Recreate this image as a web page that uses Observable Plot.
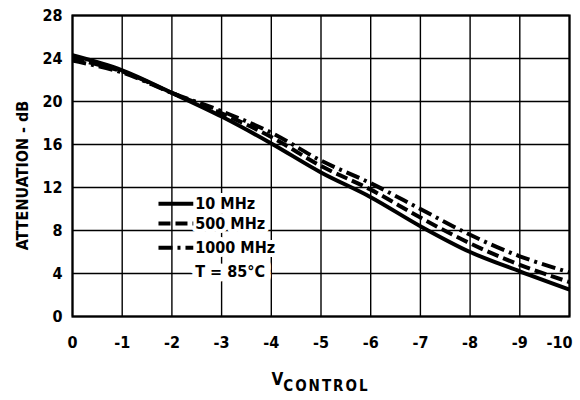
<!DOCTYPE html>
<html>
<head>
<meta charset="utf-8">
<script src="https://cdn.jsdelivr.net/npm/d3@7"></script>
<script src="https://cdn.jsdelivr.net/npm/@observablehq/plot@0.6"></script>
<style>
  html, body { margin: 0; padding: 0; background: #fff; }
  #chart svg { display: block; }
</style>
</head>
<body>
<div id="chart"></div>
<script>
// ---- data ----
const vControl = [0, -1, -2, -3, -4, -5, -6, -7, -8, -9, -10];
const att10MHz   = [24.3, 22.9, 20.8, 18.6, 16.1, 13.4, 11.1, 8.4, 6.0, 4.2, 2.5];
const att500MHz  = [24.0, 22.8, 20.8, 18.9, 16.7, 14.0, 11.8, 9.2, 6.8, 4.8, 3.2];
const att1000MHz = [23.8, 22.7, 20.8, 19.1, 17.1, 14.5, 12.4, 10.0, 7.6, 5.6, 4.1];
const xTicks = [0, -1, -2, -3, -4, -5, -6, -7, -8, -9, -10];
const yTicks = [0, 4, 8, 12, 16, 20, 24, 28];
const seriesNames = ["10 MHz", "500 MHz", "1000 MHz"];
const noteText = "T = 85°C";

const seriesValues = [att10MHz, att500MHz, att1000MHz];
const dashes = [null, "12,5", "14,5,3,5"];

const rows = [];
seriesNames.forEach((name, i) => {
  vControl.forEach((v, j) => rows.push({series: name, v, att: seriesValues[i][j]}));
});

// legend placement (data units)
const legX1 = -1.73, legX2 = -2.43, legTextX = -2.47;
const legY = [10.5, 8.65, 6.4];
const noteY = 4.15;
const legendRows = seriesNames.map((name, i) => ({name, y: legY[i], dash: dashes[i]}));

const font = "'Liberation Sans Narrow', 'DejaVu Sans Condensed', 'Roboto Condensed', sans-serif";

const marks = [
  Plot.ruleX(xTicks, {stroke: "black", strokeWidth: 1.4}),
  Plot.ruleY(yTicks, {stroke: "black", strokeWidth: 1.4}),
];
seriesNames.forEach((name, i) => {
  marks.push(Plot.line(rows.filter(d => d.series === name), {
    x: "v", y: "att", stroke: "black", strokeWidth: 4,
    strokeDasharray: dashes[i] || undefined, strokeLinecap: "butt",
    curve: "catmull-rom"
  }));
});
// legend
marks.push(Plot.text(legendRows.map(d => ({t: d.name, y: d.y})), {
  x: legTextX, y: "y", text: "t", textAnchor: "start", fontSize: 16, fontWeight: "bold",
  fill: "black", stroke: "white", strokeWidth: 8, fontFamily: font
}));
marks.push(Plot.text([{t: noteText, y: noteY}], {
  x: legTextX, y: "y", text: "t", textAnchor: "start", fontSize: 16, fontWeight: "bold",
  fill: "black", stroke: "white", strokeWidth: 13, fontFamily: font
}));
legendRows.forEach(d => {
  marks.push(Plot.line([{x: legX1, y: d.y}, {x: legX2, y: d.y}], {
    x: "x", y: "y", stroke: "black", strokeWidth: 4,
    strokeDasharray: d.dash || undefined, strokeLinecap: "butt"
  }));
});
marks.push(Plot.frame({stroke: "black", strokeWidth: 2.2}));
const fmt = d => d === 0 ? "0" : String(d);
marks.push(Plot.axisX(xTicks.slice(0, -1), {tickSize: 0, tickPadding: 20, fontSize: 16, fontWeight: "bold", label: null, tickFormat: fmt}));
marks.push(Plot.axisX(xTicks.slice(-1), {tickSize: 0, tickPadding: 20, fontSize: 16, fontWeight: "bold", label: null, tickFormat: fmt, textAnchor: "end", dx: 3}));
marks.push(Plot.axisY(yTicks, {tickSize: 0, tickPadding: 10, fontSize: 16, fontWeight: "bold", label: null}));

const chart = Plot.plot({
  width: 580, height: 400,
  marginLeft: 72, marginRight: 11, marginTop: 15, marginBottom: 84,
  style: {fontFamily: font, background: "white", color: "black"},
  x: {domain: [0, -10]},
  y: {domain: [0, 28]},
  marks
});
document.getElementById("chart").appendChild(chart);

// axis titles
const svg = d3.select(chart);
const xs = chart.scale("x"), ys = chart.scale("y");
const cx = (xs.apply(0) + xs.apply(-10)) / 2;
const cy = (ys.apply(0) + ys.apply(28)) / 2;
const xt = svg.append("text")
  .attr("x", cx).attr("y", 385)
  .attr("text-anchor", "middle")
  .style("font-family", font).style("font-weight", "bold").style("font-size", "17px")
  .attr("fill", "black");
xt.append("tspan").text("V");
xt.append("tspan").attr("dy", 6).style("font-size", "15px").attr("letter-spacing", "2").text("CONTROL");
svg.append("text")
  .attr("transform", `translate(28,${cy + 10}) rotate(-90)`)
  .attr("text-anchor", "middle")
  .style("font-family", font).style("font-weight", "bold").style("font-size", "16px")
  .attr("fill", "black")
  .text("ATTENUATION - dB");
</script>
</body>
</html>
